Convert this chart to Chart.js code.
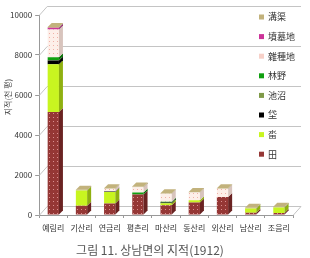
<!DOCTYPE html>
<html>
<head>
<meta charset="utf-8">
<script src="https://cdn.jsdelivr.net/npm/chart.js@4.4.0/dist/chart.umd.min.js"></script>
<style>
  html, body { margin: 0; padding: 0; background: #fff; }
  #wrap { width: 310px; height: 258px; }
</style>
</head>
<body>
<div id="wrap"><canvas id="graph"></canvas></div>
<script>
// 1912년 상남면 리별 지목 면적 (천 평) - 그림에서 읽은 값
const villages = ['예림리', '기산리', '연금리', '평촌리', '마산리', '동산리', '외산리', '남산리', '조음리'];
const jeon     = [5150, 460, 575, 1020, 490, 625, 900, 110, 100];  // 田
const dap      = [2390, 770, 575, 0, 100, 110, 0, 220, 280];       // 畓
const dae      = [180, 0, 30, 0, 40, 0, 0, 0, 0];                  // 垈
const jiso     = [20, 0, 0, 0, 0, 0, 0, 0, 0];                     // 池沼
const imya     = [150, 0, 0, 100, 30, 0, 0, 0, 0];                 // 林野
const japjong  = [1390, 0, 130, 270, 400, 385, 410, 0, 0];         // 雜種地
const bunmyo   = [80, 0, 0, 0, 0, 0, 0, 0, 0];                     // 墳墓地
const gugeo    = [40, 30, 30, 40, 30, 30, 30, 30, 30];             // 溝渠
const yTicks   = [0, 2000, 4000, 6000, 8000, 10000];

const FONT = "'Noto Sans CJK KR', 'Noto Sans', sans-serif";
const DX = 8, DY = 9;   // 뒷벽 깊이
const BD = 4;           // 막대 깊이

function dots(bg, dot) {
  const c = document.createElement('canvas');
  c.width = 4; c.height = 4;
  const g = c.getContext('2d');
  g.fillStyle = bg; g.fillRect(0, 0, 4, 4);
  g.fillStyle = dot; g.fillRect(1, 1, 1, 1);
  return g.createPattern(c, 'repeat');
}

const series = [
  { label: '田',    data: jeon,    fill: dots('#953735', '#d99090'), flat: '#953735', side: '#6a2322' },
  { label: '畓',    data: dap,     fill: '#c8f520', flat: '#c8f520', side: '#8fb010' },
  { label: '垈',    data: dae,     fill: '#000000', flat: '#000000', side: '#000000' },
  { label: '池沼',  data: jiso,    fill: '#7f9a48', flat: '#7f9a48', side: '#5a6e32' },
  { label: '林野',  data: imya,    fill: '#10a010', flat: '#10a010', side: '#087008' },
  { label: '雜種地', data: japjong, fill: dots('#fdefe9', '#f0b0a6'), flat: '#f7d0c8', side: '#d8c4bd' },
  { label: '墳墓地', data: bunmyo,  fill: '#cc3399', flat: '#cc3399', side: '#932470' },
  { label: '溝渠',  data: gugeo,   fill: '#c2b27c', flat: '#c2b27c', side: '#958656' }
];

const depth = {
  id: 'depth',
  beforeDatasetsDraw(chart) {
    const { ctx, chartArea: a, scales: { y } } = chart;
    ctx.save();
    ctx.strokeStyle = '#c4c4c4';
    ctx.lineWidth = 1;
    y.ticks.forEach(t => {
      const py = Math.round(y.getPixelForValue(t.value)) + 0.5;
      ctx.beginPath();
      ctx.moveTo(a.left, py);
      ctx.lineTo(a.left + DX, py - DY);
      ctx.lineTo(a.right + DX, py - DY);
      ctx.stroke();
    });
    ctx.beginPath();
    ctx.moveTo(a.right, a.bottom + 0.5);
    ctx.lineTo(a.right + DX, a.bottom - DY + 0.5);
    ctx.stroke();
    ctx.restore();
  },
  afterDatasetsDraw(chart) {
    const ctx = chart.ctx;
    const tops = {};
    ctx.save();
    chart.data.datasets.forEach((ds, i) => {
      chart.getDatasetMeta(i).data.forEach((bar, j) => {
        if (!ds.data[j]) return;
        const p = bar.getProps(['x', 'y', 'base', 'width'], true);
        const r = p.x + p.width / 2;
        ctx.fillStyle = series[i].side;
        ctx.beginPath();
        ctx.moveTo(r, p.y);
        ctx.lineTo(r + BD, p.y - BD);
        ctx.lineTo(r + BD, p.base - BD);
        ctx.lineTo(r, p.base);
        ctx.closePath();
        ctx.fill();
        tops[j] = { p, i };
      });
    });
    Object.values(tops).forEach(({ p, i }) => {
      const l = p.x - p.width / 2, r = p.x + p.width / 2;
      ctx.fillStyle = series[i].flat;
      ctx.beginPath();
      ctx.moveTo(l, p.y);
      ctx.lineTo(l + BD, p.y - BD);
      ctx.lineTo(r + BD, p.y - BD);
      ctx.lineTo(r, p.y);
      ctx.closePath();
      ctx.fill();
    });
    ctx.restore();
  },
  afterDraw(chart) {
    const ctx = chart.ctx;
    ctx.save();
    // y축 제목
    ctx.font = '8px ' + FONT;
    ctx.fillStyle = '#444';
    ctx.textAlign = 'center';
    ctx.textBaseline = 'middle';
    ctx.translate(8, 97);
    ctx.rotate(-Math.PI / 2);
    ctx.fillText('지적(천 평)', 0, 0);
    ctx.restore();
    // 범례 (그림 안쪽 오른편)
    ctx.save();
    ctx.font = '9px ' + FONT;
    ctx.textBaseline = 'middle';
    series.slice().reverse().forEach((s, k) => {
      const cy = 17 + k * 19.6;
      ctx.fillStyle = s.flat;
      ctx.fillRect(259, cy - 2.5, 5, 5);
      ctx.fillStyle = '#333';
      ctx.fillText(s.label, 268, cy);
    });
    ctx.restore();
  }
};

new Chart(document.getElementById('graph'), {
  type: 'bar',
  data: {
    labels: villages,
    datasets: series.map(s => ({
      label: s.label,
      data: s.data,
      backgroundColor: s.fill,
      borderWidth: 0,
      barPercentage: 0.4,
      categoryPercentage: 1.0
    }))
  },
  options: {
    responsive: true,
    maintainAspectRatio: false,
    animation: false,
    layout: { padding: { top: 15, right: 17, left: 7, bottom: 0 } },
    plugins: {
      legend: { display: false },
      tooltip: { enabled: false },
      title: {
        display: true,
        position: 'bottom',
        text: '그림 11. 상남면의 지적(1912)',
        color: '#555',
        font: { family: FONT, size: 12, weight: 'normal' },
        padding: { top: 6, bottom: 0 }
      }
    },
    scales: {
      x: {
        stacked: true,
        grid: { drawOnChartArea: false, tickLength: 3, color: '#999' },
        border: { color: '#999' },
        ticks: { color: '#333', font: { family: FONT, size: 8 }, padding: 5, maxRotation: 0, autoSkip: false }
      },
      y: {
        stacked: true,
        min: 0,
        max: 10000,
        afterBuildTicks: axis => { axis.ticks = yTicks.map(v => ({ value: v })); },
        grid: { drawOnChartArea: false, tickLength: 4, color: '#999' },
        border: { color: '#999' },
        ticks: { color: '#333', font: { family: FONT, size: 8 }, padding: 3, callback: v => String(v) }
      }
    }
  },
  plugins: [depth]
});
</script>
</body>
</html>
